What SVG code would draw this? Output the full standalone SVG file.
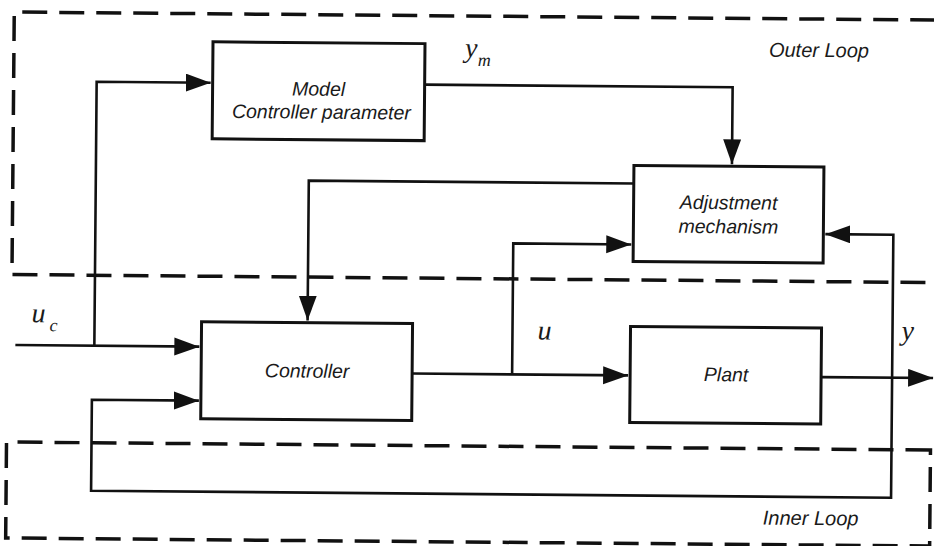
<svg xmlns="http://www.w3.org/2000/svg" width="934" height="546" viewBox="0 0 934 546">
<defs>
<marker id="ah" markerUnits="userSpaceOnUse" markerWidth="28" markerHeight="20" refX="25" refY="9" orient="auto">
<path d="M0,0 L25,9 L0,18 z" fill="#111"/>
</marker>
<style>
.box{fill:#fff;stroke:#111;stroke-width:3}
.ln{fill:none;stroke:#111;stroke-width:2.6}
.arr{marker-end:url(#ah)}
.dash{fill:none;stroke:#111;stroke-width:3.5;stroke-dasharray:25 12}
.t{font-family:"Liberation Sans",Arial,sans-serif;font-style:italic;font-size:19.5px;fill:#1a1a1a;text-anchor:middle}
.lbl{font-family:"Liberation Sans",Arial,sans-serif;font-style:italic;font-size:20px;fill:#1a1a1a}
.v{font-family:"Liberation Serif","Times New Roman",serif;font-style:italic;font-size:28px;fill:#1a1a1a}
.sub{font-family:"Liberation Serif","Times New Roman",serif;font-style:italic;font-size:18px;fill:#1a1a1a}
</style>
</defs>
<rect width="934" height="546" fill="#fff"/>
<g transform="rotate(0.5 467 273)">
<g id="loops">
<path class="dash" d="M933,16 L12,16 L12,278.5 L933,278.5"/>
<path class="dash" d="M932,446 L8,446 L8,542 L932,542 Z"/>
<text class="lbl" x="767" y="54">Outer Loop</text>
<text class="lbl" x="765" y="522">Inner Loop</text>
</g>
<g id="connectors">
<path class="ln arr" d="M95,349 L95,85 L209,85"/>
<path class="ln arr" d="M16,349 L200,349"/>
<path class="ln arr" d="M423,85 L731,85 L731,162"/>
<path class="ln arr" d="M633,182 L308,182 L308,322"/>
<path class="ln arr" d="M413,374 L629,374"/>
<path class="ln arr" d="M513,374 L513,243 L631,243"/>
<path class="ln arr" d="M822,374 L934,374"/>
<path class="ln arr" d="M893,374 L893,231 L825,231"/>
<path class="ln arr" d="M893,374 L893,494 L93,494 L93,403 L200,403"/>
</g>
<g id="model">
<rect class="box" x="211" y="44" width="212" height="97"/>
<text class="t" x="317" y="97">Model</text>
<text class="t" x="320" y="120">Controller parameter</text>
</g>
<g id="adjustment">
<rect class="box" x="633" y="164" width="190" height="96"/>
<text class="t" x="728" y="207">Adjustment</text>
<text class="t" x="728" y="231">mechanism</text>
</g>
<g id="controller">
<rect class="box" x="202" y="324" width="211" height="97"/>
<text class="t" x="308" y="379">Controller</text>
</g>
<g id="plant">
<rect class="box" x="631" y="325" width="191" height="96"/>
<text class="t" x="727" y="379">Plant</text>
</g>
<g id="labels">
<text class="v" x="32" y="326">u</text>
<text class="sub" x="50" y="335">c</text>
<text class="v" x="538" y="339">u</text>
<text class="v" x="902" y="336">y</text>
<text class="v" x="463" y="57">y</text>
<text class="sub" x="476" y="66">m</text>
</g>
</g>
</svg>
